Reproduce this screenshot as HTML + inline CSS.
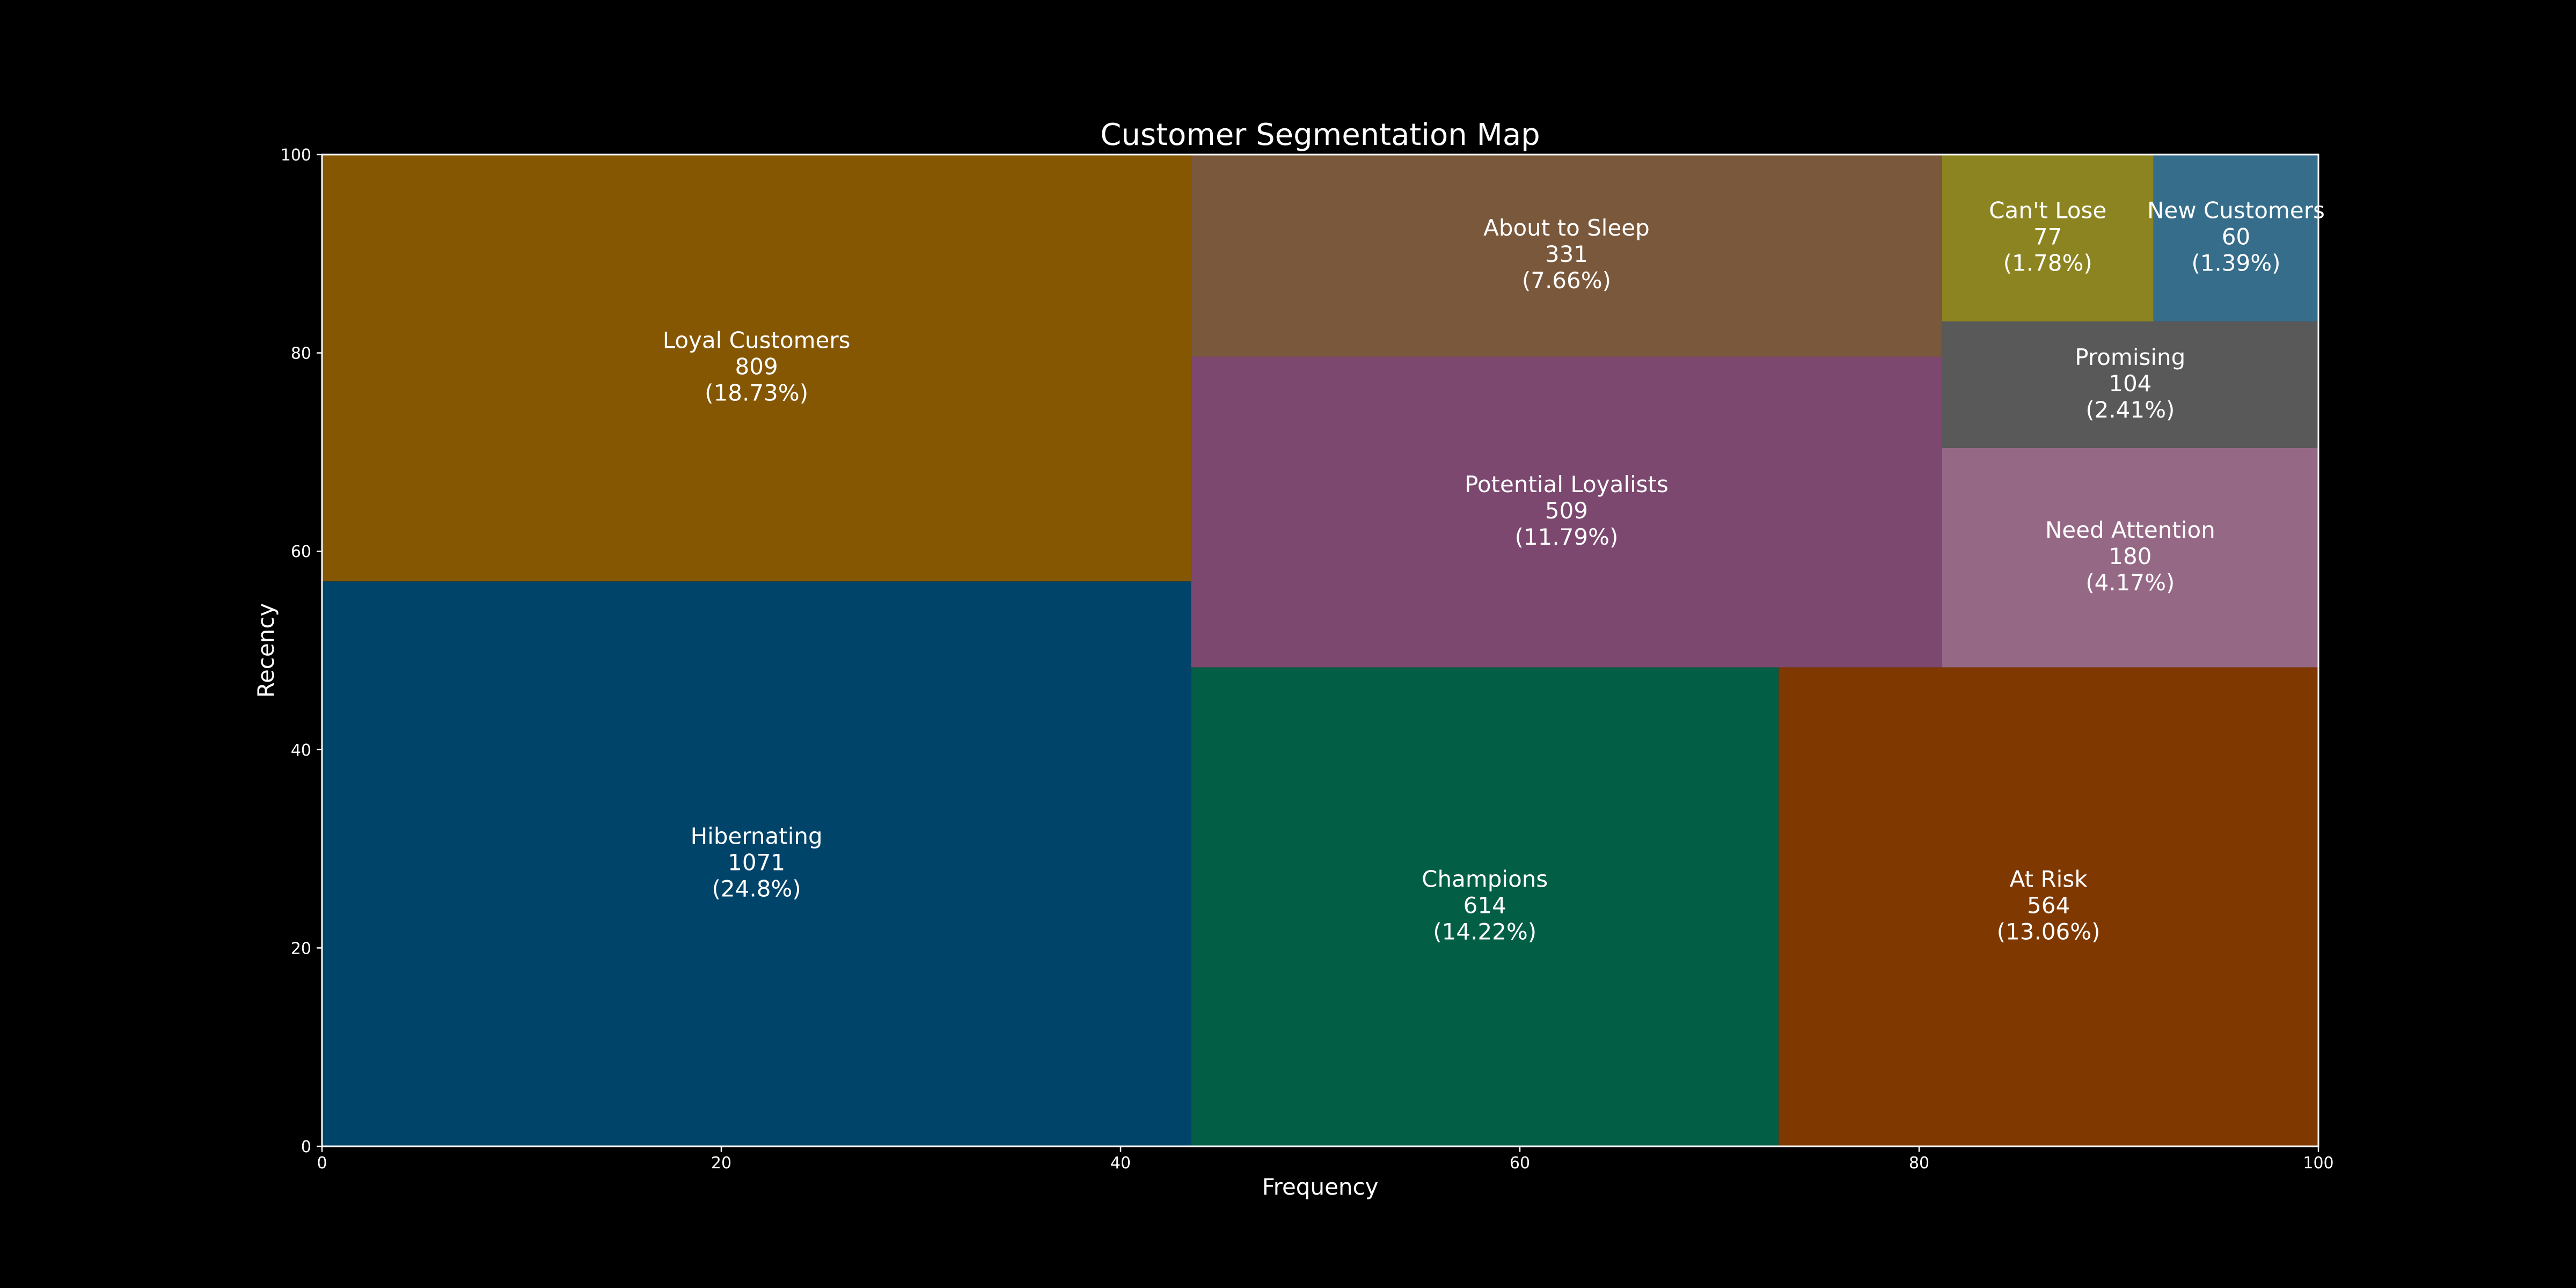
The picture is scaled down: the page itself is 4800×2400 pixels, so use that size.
<!DOCTYPE html>
<html><head><meta charset="utf-8"><style>
html,body{margin:0;padding:0;background:#000;}
svg{display:block;}
text{font-family:"DejaVu Sans","Liberation Sans",sans-serif;fill:#fff;}
</style></head><body>
<svg id="chart" width="4800" height="2400" viewBox="0 0 4800 2400" xmlns="http://www.w3.org/2000/svg">
<rect x="0" y="0" width="4800" height="2400" fill="#000"/>
<text x="2460" y="270" font-size="56" text-anchor="middle">Customer Segmentation Map</text>
<g id="cells"></g>
<g id="axes"></g>
<text x="2460" y="2226" font-size="42" text-anchor="middle">Frequency</text>
<text x="510" y="1212" font-size="42" text-anchor="middle" transform="rotate(-90 510 1212)">Recency</text>
</svg>
<script>
const segments = ["Hibernating","Loyal Customers","Champions","At Risk","Potential Loyalists","About to Sleep","Need Attention","Promising","Can't Lose","New Customers"];
const counts = [1071,809,614,564,509,331,180,104,77,60];
const colors = ["#01446a","#855703","#025e45","#7f3800","#7c4870","#7a583b","#956986","#595959","#8c8420","#356d8b"];
const xTicks = [0,20,40,60,80,100];
const yTicks = [0,20,40,60,80,100];

const L=600,R=4320,T=288,B=2136;
const sx=v=>L+(v/100)*(R-L);
const sy=v=>B-(v/100)*(B-T);
const NS="http://www.w3.org/2000/svg";

function layoutrow(s,x,y,dx,dy){const c=s.reduce((a,b)=>a+b,0);const w=c/dy;const r=[];for(const z of s){r.push({x:x,y:y,dx:w,dy:z/w});y+=z/w;}return r;}
function layoutcol(s,x,y,dx,dy){const c=s.reduce((a,b)=>a+b,0);const h=c/dx;const r=[];for(const z of s){r.push({x:x,y:y,dx:z/h,dy:h});x+=z/h;}return r;}
function layout(s,x,y,dx,dy){return dx>=dy?layoutrow(s,x,y,dx,dy):layoutcol(s,x,y,dx,dy);}
function leftover(s,x,y,dx,dy){const c=s.reduce((a,b)=>a+b,0);if(dx>=dy){const w=c/dy;return [x+w,y,dx-w,dy];}const h=c/dx;return [x,y+h,dx,dy-h];}
function worst(s,x,y,dx,dy){return Math.max(...layout(s,x,y,dx,dy).map(r=>Math.max(r.dx/r.dy,r.dy/r.dx)));}
function squarify(s,x,y,dx,dy){
  if(s.length===0)return [];
  if(s.length===1)return layout(s,x,y,dx,dy);
  let i=1;
  while(i<s.length && worst(s.slice(0,i),x,y,dx,dy)>=worst(s.slice(0,i+1),x,y,dx,dy))i++;
  const cur=s.slice(0,i),rem=s.slice(i);
  const [lx,ly,ldx,ldy]=leftover(cur,x,y,dx,dy);
  return layout(cur,x,y,dx,dy).concat(squarify(rem,lx,ly,ldx,ldy));
}
const total=counts.reduce((a,b)=>a+b,0);
const norm=counts.map(v=>v*100*100/total);
const rects=squarify(norm,0,0,100,100);
const cells=document.getElementById('cells');
rects.forEach((r,i)=>{
  const g=document.createElementNS(NS,'g');
  const slug=segments[i].toLowerCase().replace(/[^a-z]+/g,'-');
  
  
  const rc=document.createElementNS(NS,'rect');
  rc.setAttribute('x',sx(r.x));rc.setAttribute('y',sy(r.y+r.dy));
  rc.setAttribute('width',sx(r.x+r.dx)-sx(r.x));rc.setAttribute('height',sy(r.y)-sy(r.y+r.dy));
  rc.setAttribute('fill',colors[i]);
  
  
  g.appendChild(rc);
  const cx=sx(r.x+r.dx/2),cy=sy(r.y+r.dy/2);
  const pct=Math.round(counts[i]/total*10000)/100;
  const lines=[segments[i],String(counts[i]),'('+pct+'%)'];
  const t=document.createElementNS(NS,'text');
  t.setAttribute('text-anchor','middle');t.setAttribute('font-size','42');
  
  
  lines.forEach((ln,k)=>{const ts=document.createElementNS(NS,'tspan');ts.setAttribute('x',cx);ts.setAttribute('y',cy+(k-1)*49+12);ts.textContent=ln;t.appendChild(ts);});
  g.appendChild(t);
  cells.appendChild(g);
});
const axes=document.getElementById('axes');
const frame=document.createElementNS(NS,'rect');
frame.setAttribute('x',L);frame.setAttribute('y',T);frame.setAttribute('width',R-L);frame.setAttribute('height',B-T);
frame.setAttribute('fill','none');frame.setAttribute('stroke','#fff');frame.setAttribute('stroke-width','3');


axes.appendChild(frame);
xTicks.forEach(v=>{
  const l=document.createElementNS(NS,'line');
  l.setAttribute('x1',sx(v));l.setAttribute('x2',sx(v));l.setAttribute('y1',B);l.setAttribute('y2',B+10);l.setAttribute('stroke','#fff');l.setAttribute('stroke-width','2.5');
  
  
  axes.appendChild(l);
  const t=document.createElementNS(NS,'text');
  t.setAttribute('x',sx(v));t.setAttribute('y',B+41);t.setAttribute('font-size','30');t.setAttribute('text-anchor','middle');t.textContent=v;
  
  
  axes.appendChild(t);
});
yTicks.forEach(v=>{
  const l=document.createElementNS(NS,'line');
  l.setAttribute('x1',L-10);l.setAttribute('x2',L);l.setAttribute('y1',sy(v));l.setAttribute('y2',sy(v));l.setAttribute('stroke','#fff');l.setAttribute('stroke-width','2.5');
  
  
  axes.appendChild(l);
  const t=document.createElementNS(NS,'text');
  t.setAttribute('x',L-20);t.setAttribute('y',sy(v)+11);t.setAttribute('font-size','30');t.setAttribute('text-anchor','end');t.textContent=v;
  
  
  axes.appendChild(t);
});
</script>
</body></html>
